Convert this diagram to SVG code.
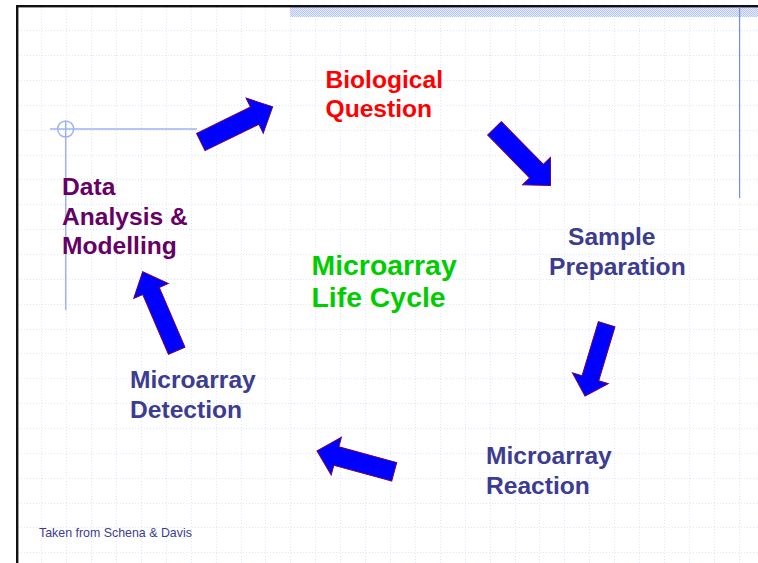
<svg xmlns="http://www.w3.org/2000/svg" width="758" height="563" viewBox="0 0 758 563">
  <style>
    .grid { fill: none; stroke: #dde5fb; stroke-width: 1; stroke-dasharray: 1 2; }
    .guide { fill: none; stroke: #9fb2f2; stroke-width: 1.5; }
    .arrow { fill: #0000ff; stroke: #660066; stroke-width: 1; stroke-linejoin: miter; }
    .label { font-family: "Liberation Sans", Arial, Helvetica, sans-serif; font-weight: bold; font-size: 24.6px; }
    .blue { fill: #3c3c92; }
    .purple { fill: #660066; }
    .red { fill: #ff0000; }
    .green { fill: #00cc00; font-size: 28.4px; }
    .note { font-family: "Liberation Sans", Arial, Helvetica, sans-serif; font-size: 12.4px; fill: #3c3c92; }
  </style>
  <defs>
    <pattern id="dither" patternUnits="userSpaceOnUse" width="2" height="2">
      <rect width="2" height="2" fill="#e4eafc"/>
      <rect width="1" height="1" fill="#b9c7f4"/>
      <rect x="1" y="1" width="1" height="1" fill="#b9c7f4"/>
    </pattern>
  </defs>

  <!-- page background -->
  <rect width="758" height="563" fill="#ffffff"/>

  <!-- dotted layout grid -->
  <g id="grid">
    <path class="grid" d="M18,30.5 H758 M18,55.5 H758 M18,80.5 H758 M18,105.5 H758 M18,130.5 H758 M18,155.5 H758 M18,179.5 H758 M18,204.5 H758 M18,229.5 H758 M18,254.5 H758 M18,279.5 H758 M18,304.5 H758 M18,329.5 H758 M18,353.5 H758 M18,378.5 H758 M18,403.5 H758 M18,428.5 H758 M18,453.5 H758 M18,478.5 H758 M18,503.5 H758 M18,527.5 H758 M18,552.5 H758"/>
    <path class="grid" d="M41.5,7 V563 M66.5,7 V563 M91.5,7 V563 M116.5,7 V563 M141.5,7 V563 M166.5,7 V563 M191.5,7 V563 M216.5,7 V563 M241.5,7 V563 M265.5,7 V563 M290.5,7 V563 M315.5,7 V563 M340.5,7 V563 M365.5,7 V563 M390.5,7 V563 M415.5,7 V563 M440.5,7 V563 M465.5,7 V563 M490.5,7 V563 M515.5,7 V563 M539.5,7 V563 M564.5,7 V563 M589.5,7 V563 M614.5,7 V563 M639.5,7 V563 M664.5,7 V563 M689.5,7 V563 M714.5,7 V563 M739.5,7 V563"/>
  </g>

  <!-- slide frame and decoration -->
  <g id="frame">
    <rect x="290" y="7" width="468" height="10" fill="url(#dither)"/>
    <rect x="16" y="5" width="742" height="2.4" fill="#111111"/>
    <rect x="16" y="5" width="2.4" height="558" fill="#111111"/>
    <rect x="739" y="7" width="1.2" height="191" fill="#6f8ff0"/>
    <line class="guide" x1="50" y1="129" x2="197" y2="129"/>
    <line class="guide" x1="65.7" y1="121" x2="65.7" y2="310"/>
    <circle class="guide" cx="65.7" cy="129" r="8"/>
  </g>

  <!-- cycle arrows -->
  <g id="connectors">
    <path class="arrow" transform="translate(200.8,142) rotate(-26.1)" d="M0,-9.6 H60 V-19.5 L80,0 L60,19.5 V9.6 H0 Z"/>
    <path class="arrow" transform="translate(494.5,128.3) rotate(45.6)" d="M0,-9.6 H60 V-19.5 L80,0 L60,19.5 V9.6 H0 Z"/>
    <path class="arrow" transform="translate(606.7,324.2) rotate(106.8)" d="M0,-8.7 H56.5 V-18.7 L75,0 L56.5,18.7 V8.7 H0 Z"/>
    <path class="arrow" transform="translate(394.2,471.8) rotate(195.2)" d="M0,-9.6 H60 V-19.5 L80,0 L60,19.5 V9.6 H0 Z"/>
    <path class="arrow" transform="translate(176.7,350.7) rotate(246.7)" d="M0,-9 H65 V-18.8 L86,0 L65,18.8 V9 H0 Z"/>
  </g>

  <!-- stages -->
  <g id="biological-question">
    <text class="label red" x="325.5" y="88">Biological</text>
    <text class="label red" x="325.5" y="116.5">Question</text>
  </g>
  <g id="sample-preparation">
    <text class="label blue" x="568" y="245">Sample</text>
    <text class="label blue" x="549" y="274.5">Preparation</text>
  </g>
  <g id="microarray-reaction">
    <text class="label blue" x="486" y="464">Microarray</text>
    <text class="label blue" x="486" y="493.5">Reaction</text>
  </g>
  <g id="microarray-detection">
    <text class="label blue" x="130" y="388">Microarray</text>
    <text class="label blue" x="130" y="417.5">Detection</text>
  </g>
  <g id="data-analysis">
    <text class="label purple" x="62" y="195">Data</text>
    <text class="label purple" x="62" y="224.5">Analysis &amp;</text>
    <text class="label purple" x="62" y="254">Modelling</text>
  </g>
  <g id="title">
    <text class="label green" x="311.5" y="274.5">Microarray</text>
    <text class="label green" x="311.5" y="307">Life Cycle</text>
  </g>

  <text class="note" x="39" y="537">Taken from Schena &amp; Davis</text>
</svg>
